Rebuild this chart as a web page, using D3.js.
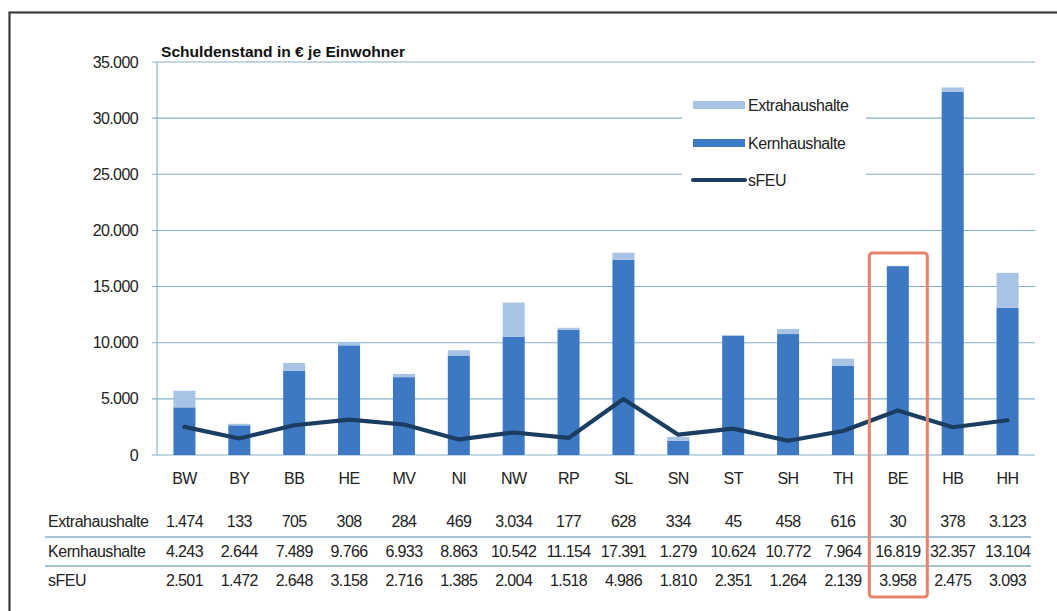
<!DOCTYPE html>
<html><head><meta charset="utf-8">
<script src="https://cdn.jsdelivr.net/npm/d3@7"></script>
<style>
html,body{margin:0;padding:0;background:#fff;}
svg{display:block;font-family:"Liberation Sans",Arial,sans-serif;}
</style></head>
<body>
<svg id="c" width="1057" height="611"></svg>
<script>
const categories = ["BW","BY","BB","HE","MV","NI","NW","RP","SL","SN","ST","SH","TH","BE","HB","HH"];
const extrahaushalte = [1474,133,705,308,284,469,3034,177,628,334,45,458,616,30,378,3123];
const kernhaushalte = [4243,2644,7489,9766,6933,8863,10542,11154,17391,1279,10624,10772,7964,16819,32357,13104];
const sfeu = [2501,1472,2648,3158,2716,1385,2004,1518,4986,1810,2351,1264,2139,3958,2475,3093];
const yTicks = [0,5000,10000,15000,20000,25000,30000,35000];
const seriesNames = ["Extrahaushalte","Kernhaushalte","sFEU"];
const highlight = "BE";

const fmt = d3.formatLocale({decimal:",",thousands:".",grouping:[3],currency:["","€"]}).format(",d");

const svg = d3.select("#c");
const C = {kern:"#3d78c2", extra:"#a7c3e6", line:"#1b3d62", grid:"#86b0c8", text:"#222"};
const FS = 16, LS = "-0.45px";

// outer frame
svg.append("rect").attr("x",9.5).attr("y",12.5).attr("width",1080).attr("height",640)
  .attr("fill","none").attr("stroke","#3a3a3a").attr("stroke-width",2.2);

const xc = d3.scaleBand().domain(categories).range([157,1035]);
const y = d3.scaleLinear().domain([0,35000]).range([455,62]);

// gridlines
const g = svg.append("g");
g.selectAll("line.grid").data(yTicks).join("line")
  .attr("x1",152).attr("x2",1035).attr("y1",d=>y(d)).attr("y2",d=>y(d))
  .attr("stroke",C.grid).attr("stroke-width",1.1);
g.append("line").attr("x1",157).attr("x2",157).attr("y1",y(35000)).attr("y2",y(0))
  .attr("stroke",C.grid).attr("stroke-width",1.1);

// y axis labels
const yAxis = d3.axisLeft(y).tickValues(yTicks).tickFormat(fmt).tickSize(0).tickPadding(19);
const ya = svg.append("g").attr("transform","translate(157,0)").call(yAxis);
ya.select(".domain").remove();
ya.selectAll("text").attr("font-size",FS).attr("fill",C.text).attr("font-family","Liberation Sans, Arial").style("letter-spacing","-0.6px");

// bars
const bw = 22;
svg.append("g").selectAll("rect").data(categories).join("rect")
  .attr("x",(d)=>xc(d)+xc.bandwidth()/2-bw/2).attr("width",bw)
  .attr("y",(d,i)=>y(kernhaushalte[i])).attr("height",(d,i)=>y(0)-y(kernhaushalte[i]))
  .attr("fill",C.kern);
svg.append("g").selectAll("rect").data(categories).join("rect")
  .attr("x",(d)=>xc(d)+xc.bandwidth()/2-bw/2).attr("width",bw)
  .attr("y",(d,i)=>y(kernhaushalte[i]+extrahaushalte[i])).attr("height",(d,i)=>y(kernhaushalte[i])-y(kernhaushalte[i]+extrahaushalte[i]))
  .attr("fill",C.extra);

// line
const line = d3.line().x((d,i)=>xc(categories[i])+xc.bandwidth()/2).y(d=>y(d));
svg.append("path").datum(sfeu).attr("d",line).attr("fill","none")
  .attr("stroke",C.line).attr("stroke-width",4.2).attr("stroke-linejoin","round").attr("stroke-linecap","round");

// legend
const lg = svg.append("g");
lg.append("rect").attr("x",682).attr("y",90).attr("width",184).attr("height",104).attr("fill","#fff");
const ly = [105,143,180];
lg.append("rect").attr("x",693).attr("y",ly[0]-4).attr("width",52).attr("height",8).attr("fill",C.extra);
lg.append("rect").attr("x",693).attr("y",ly[1]-4).attr("width",52).attr("height",8).attr("fill",C.kern);
lg.append("line").attr("x1",693).attr("x2",745).attr("y1",ly[2]).attr("y2",ly[2]).attr("stroke",C.line).attr("stroke-width",4.2).attr("stroke-linecap","round");
lg.selectAll("text").data(seriesNames).join("text")
  .attr("x",748).attr("y",(d,i)=>ly[i]).attr("dy","0.36em")
  .attr("font-size",FS).attr("fill",C.text).style("letter-spacing",LS).text(d=>d);

// title
svg.append("text").attr("x",161).attr("y",57).attr("font-size",15).attr("font-weight","bold")
  .attr("fill","#111").attr("textLength",244).attr("lengthAdjust","spacingAndGlyphs")
  .text("Schuldenstand in € je Einwohner");

// category labels
const xAxis = d3.axisBottom(xc).tickSize(0).tickPadding(18);
const xa = svg.append("g").attr("transform","translate(0,455)").call(xAxis);
xa.select(".domain").remove();
xa.selectAll("text").attr("font-size",FS).attr("fill",C.text).style("letter-spacing","-0.6px");

// data table
const rowsY = [521,551,580];
const rows = [extrahaushalte,kernhaushalte,sfeu];
const tb = svg.append("g");
tb.selectAll("line.sep").data([537,566]).join("line")
  .attr("x1",45).attr("x2",1031).attr("y1",d=>d).attr("y2",d=>d)
  .attr("stroke",C.grid).attr("stroke-width",1.3);
rows.forEach((vals,r)=>{
  tb.append("text").attr("x",48).attr("y",rowsY[r]).attr("dy","0.36em").attr("font-size",FS)
    .attr("fill",C.text).style("letter-spacing",LS).text(seriesNames[r]);
  tb.selectAll("text.v"+r).data(vals).join("text")
    .attr("x",(d,i)=>xc(categories[i])+xc.bandwidth()/2).attr("y",rowsY[r]).attr("dy","0.36em")
    .attr("text-anchor","middle").attr("font-size",FS).attr("fill",C.text).style("letter-spacing","-0.6px")
    .text(d=>fmt(d));
});

// highlight box
const hx = xc(highlight)+xc.bandwidth()/2;
svg.append("rect").attr("x",hx-28.5).attr("y",253).attr("width",58).attr("height",344).attr("rx",3)
  .attr("fill","none").attr("stroke","#e8826a").attr("stroke-width",3);
</script>
</body></html>
